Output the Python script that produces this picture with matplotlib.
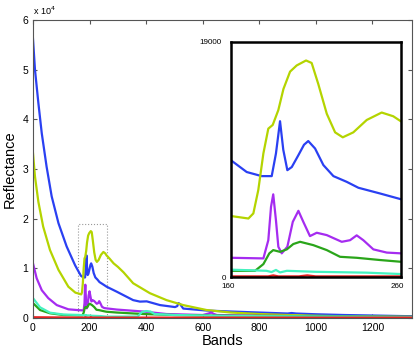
import numpy as np
import matplotlib
matplotlib.use('Agg')
import matplotlib.pyplot as plt
from matplotlib.patches import Rectangle
from matplotlib.ticker import FuncFormatter

plt.rcParams['font.family'] = ['Liberation Sans', 'DejaVu Sans']

# spectra (band, reflectance in thousands)
blue_b = [0, 7, 19, 31, 48, 66, 90, 119, 149, 160.6, 169.4, 178.2, 184.1, 186.6, 189, 190.9, 193.3,
          195.9, 199.8, 203.1, 205.6, 209.6, 214.5, 220.4, 228.2, 235.1, 247.8, 260, 296, 354, 378,
          402, 449, 502, 510, 514, 520, 531, 614, 700, 800, 900, 914, 930, 1000, 1100, 1200, 1340]
blue_v = [56.2, 50.0, 43.3, 37.2, 30.5, 24.5, 19.1, 14.4, 10.6, 9.4, 8.5, 8.17, 8.17, 10.0, 12.6,
          10.3, 8.65, 8.9, 9.86, 10.7, 11.0, 10.4, 9.06, 8.17, 7.71, 7.23, 6.77, 6.31, 5.3, 3.6,
          3.3, 3.35, 2.6, 2.2, 2.4, 3.0, 2.8, 1.9, 1.5, 1.3, 1.1, 0.9, 1.0, 0.9, 0.75, 0.6, 0.5, 0.35]

yel_b = [0, 7, 19, 36, 60, 90, 125, 150, 160.6, 170.4, 173.3, 176.2, 179.2, 182.1, 184.7, 188, 191,
         194.9, 198.8, 204.3, 207.6, 211.5, 216.5, 221.4, 225.9, 232.1, 240, 248.8, 255.6, 260, 270,
         285, 300, 320, 354, 413, 472, 531, 614, 700, 800, 900, 1000, 1100, 1200, 1340]
yel_v = [33.2, 28.5, 23.4, 18.4, 13.7, 9.7, 6.3, 5.1, 4.94, 4.75, 5.16, 7.04, 10.0, 12.0, 12.3, 13.5,
         15.2, 16.6, 17.1, 17.5, 17.3, 15.6, 13.2, 11.7, 11.3, 11.7, 12.7, 13.3, 13.0, 12.6, 12.0,
         11.0, 10.3, 9.2, 7.0, 5.0, 3.6, 2.6, 1.6, 1.1, 0.8, 0.6, 0.45, 0.35, 0.3, 0.2]

pur_b = [0, 13, 31, 54, 84, 125, 160.6, 179.2, 182.1, 183.7, 185, 186.6, 188, 190, 193.3, 196.5,
         199.8, 202.7, 206.6, 210.6, 216.5, 225.3, 230.2, 234.1, 238, 243.9, 251.8, 260, 296, 390,
         472, 600, 620, 630, 640, 650, 800, 1000, 1340]
pur_v = [11.0, 8.0, 5.6, 4.0, 2.6, 1.75, 1.58, 1.53, 3.0, 5.7, 6.7, 4.6, 2.47, 1.94, 2.47, 4.48, 5.37,
         4.48, 3.33, 3.6, 3.41, 2.87, 3.0, 3.39, 3.0, 2.26, 2.0, 1.94, 1.7, 1.3, 0.8, 0.6, 0.9, 1.1,
         0.8, 0.6, 0.45, 0.35, 0.25]

grn_b = [0, 25, 60, 107, 160.6, 174.3, 179.2, 182.7, 185, 189, 193, 196.8, 200.8, 208.6, 216.5,
         224.3, 234.1, 247.8, 260, 296, 390, 500, 700, 1000, 1340]
grn_v = [3.0, 1.6, 0.95, 0.6, 0.53, 0.53, 1.07, 1.94, 2.2, 2.06, 2.26, 2.69, 2.87, 2.6, 2.2, 1.66,
         1.58, 1.4, 1.26, 1.1, 0.8, 0.6, 0.45, 0.35, 0.25]

cyn_b = [0, 25, 60, 107, 160.6, 181, 184, 186.6, 189, 193, 210, 240, 260, 370, 385, 400, 415, 430,
         500, 700, 1000, 1340]
cyn_v = [4.0, 2.15, 1.07, 0.7, 0.62, 0.53, 0.43, 0.6, 0.4, 0.53, 0.45, 0.38, 0.27, 0.3, 1.2, 1.4,
         1.3, 0.8, 0.6, 0.4, 0.3, 0.2]

red_b = [0, 160, 182, 185, 188, 200, 205, 210, 260, 1340]
red_v = [0.15, 0.08, 0.08, 0.16, 0.08, 0.08, 0.16, 0.08, 0.08, 0.08]

series = [
    (blue_b, blue_v, '#2a40f2'),
    (yel_b, yel_v, '#b4d400'),
    (pur_b, pur_v, '#a52cf0'),
    (grn_b, grn_v, '#2aa51a'),
    (cyn_b, cyn_v, '#44f2c0'),
    (red_b, red_v, '#e62020'),
]

fig = plt.figure(figsize=(4.15, 3.52), dpi=100)
ax = fig.add_axes([0.0795, 0.0966, 0.9135, 0.8464])
for b, v, c in series:
    ax.plot(b, np.array(v) * 1000, color=c, lw=1.6)

ax.set_xlim(0, 1340)
ax.set_ylim(0, 60000)
ax.set_xticks([0, 200, 400, 600, 800, 1000, 1200])
ax.set_yticks(np.arange(0, 60001, 10000))
ax.yaxis.set_major_formatter(FuncFormatter(lambda v, p: '%d' % round(v / 1e4)))
ax.tick_params(direction='in', length=3, top=True, right=True, labelsize=7.5, color='#555555')
for s in ax.spines.values():
    s.set_color('#555555')
    s.set_linewidth(0.8)
ax.set_xlabel('Bands', fontsize=10.5, labelpad=1)
ax.set_ylabel('Reflectance', fontsize=10.5, labelpad=4)
ax.text(0.0, 1.01, 'x 10$^4$', transform=ax.transAxes, fontsize=6.5, va='bottom', ha='left')

ax.add_patch(Rectangle((160, 0), 100, 19000, fill=False, ls=':', ec='#999999', lw=0.8))

# zoomed view
ins = fig.add_axes([0.556, 0.212, 0.4096, 0.669])
for b, v, c in series:
    ins.plot(b, np.array(v) * 1000, color=c, lw=1.6)
ins.set_xlim(160, 260)
ins.set_ylim(0, 19000)
ins.set_xticks([])
ins.set_yticks([])
for s in ins.spines.values():
    s.set_color('black')
    s.set_linewidth(1.8)

W, H = 415.0, 352.0
fig.text(222 / W, 1 - 42 / H, '19000', fontsize=5.8, ha='right', va='center')
fig.text(226 / W, 1 - 278 / H, '0', fontsize=5.8, ha='right', va='center')
fig.text(228 / W, 1 - 287 / H, '160', fontsize=5.8, ha='center', va='center')
fig.text(397 / W, 1 - 287 / H, '260', fontsize=5.8, ha='center', va='center')

fig.savefig('out.png', dpi=100)
